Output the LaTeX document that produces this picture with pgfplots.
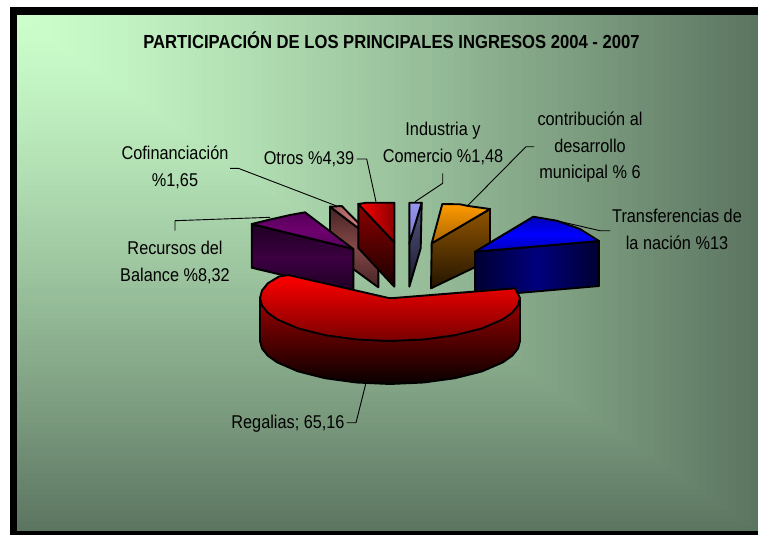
\documentclass[border=0pt]{standalone}
\usepackage{fontspec}
\setmainfont{Liberation Sans}
\newfontfamily\narrow[FakeStretch=0.88]{Liberation Sans}
\usepackage{pgfplots}
\pgfplotsset{compat=1.18}
\definecolor{bglight}{RGB}{204,255,204}
\definecolor{bgdark}{RGB}{92,117,97}
\definecolor{cofA}{RGB}{70,35,35}
\definecolor{cofB}{RGB}{132,72,72}
\definecolor{cofC}{RGB}{150,85,85}
\definecolor{cofD}{RGB}{255,150,150}
\definecolor{otA}{RGB}{140,0,0}
\definecolor{otB}{RGB}{25,0,0}
\definecolor{otC}{RGB}{255,0,0}
\definecolor{indA}{RGB}{85,85,130}
\definecolor{indB}{RGB}{25,25,45}
\definecolor{indC}{RGB}{150,150,240}
\definecolor{indD}{RGB}{120,120,200}
\definecolor{conA}{RGB}{145,85,0}
\definecolor{conB}{RGB}{35,20,0}
\definecolor{conC}{RGB}{255,155,0}
\definecolor{conD}{RGB}{170,100,0}
\definecolor{recA}{RGB}{30,0,35}
\definecolor{recB}{RGB}{60,0,65}
\definecolor{recC}{RGB}{85,0,90}
\definecolor{recD}{RGB}{110,0,110}
\definecolor{traA}{RGB}{0,0,50}
\definecolor{traB}{RGB}{0,0,125}
\definecolor{traC}{RGB}{0,0,180}
\definecolor{traD}{RGB}{0,0,255}
\definecolor{regA}{RGB}{155,0,0}
\definecolor{regB}{RGB}{8,0,0}
\definecolor{regC}{RGB}{255,0,0}
\definecolor{regD}{RGB}{120,0,0}
\newcommand{\lab}{\narrow\fontsize{18.5}{27}\selectfont}
\newcommand{\ttl}{\narrow\bfseries\fontsize{18.9}{22}\selectfont}
\begin{document}
\begin{tikzpicture}
% background: white page, black frame, gradient from the top left corner
\begin{scope}[x=1pt,y=-1pt]
\fill[white] (0,0) rectangle (758,535);
\fill[black] (10,7) rectangle (758,535);
\foreach \i in {100,99,...,1}{
  \pgfmathsetmacro\p{100*(\i/100)^1.25}
  \fill[bgdark!\p!bglight] (17,15) rectangle ++(\i*7.41,\i*5.16);
}
\end{scope}
\begin{axis}[
    at={(0pt,0pt)}, anchor=north west,
    width=758pt, height=535pt, scale only axis,
    xmin=0, xmax=758, ymin=0, ymax=535, y dir=reverse,
    hide axis, no markers,
    every axis plot/.append style={line width=1.9pt, draw=black, line join=round},
]
% Cofinanciacion
\addplot[top color=cofA, bottom color=cofA, middle color=cofB]
  coordinates {(330,206.7)(378.3,243.3)(378.3,287.3)(330,252)} --cycle;
\addplot[left color=cofC, right color=cofD]
  coordinates {(330,206.7)(341.7,206)(378.3,243.3)} --cycle;
% Otros
\addplot[shading angle=60, top color=otA, bottom color=otB]
  coordinates {(358.3,204)(394.3,242.3)(394.3,286.7)(358.3,248)} --cycle;
\addplot[left color=otC, right color=otA]
  coordinates {(358.3,204)(366.7,202.7)(394.3,202.7)(394.3,242.3)} --cycle;
% Industria y Comercio
\addplot[top color=indA, bottom color=indB]
  coordinates {(409.3,243.3)(421.7,202.7)(420.7,248.3)(409.3,286.7)} --cycle;
\addplot[top color=indC, bottom color=indD]
  coordinates {(409.3,202.7)(421.7,202.7)(409.3,243.3)} --cycle;
% contribucion
\addplot[shading angle=-45, top color=conA, bottom color=conB]
  coordinates {(431.7,243.3)(490,209)(490,260)(431,288.3)} --cycle;
\addplot[shading angle=-30, top color=conC, bottom color=conD]
  coordinates {(431.7,243.3)(442.3,204)(460,204.3)(468.3,206)(490,209)} --cycle;
% Recursos del Balance
\addplot[top color=recA, bottom color=recA, middle color=recB]
  coordinates {(251.7,224)(353.3,249)(353.3,292)(251.7,267.7)} --cycle;
\addplot[top color=recC, bottom color=recC, middle color=recD]
  coordinates {(251.7,224)(268,220)(290,215)(305,212.3)(353.3,249)} --cycle;
% Transferencias
\addplot[left color=traA, right color=traA, middle color=traB]
  coordinates {(475,251.7)(599,241)(599,286)(475,296.7)} --cycle;
\addplot[top color=traC, bottom color=traC, middle color=traD]
  coordinates {(475,251.7)(533.3,216.7)(556.7,220.7)(580,229)(599,241)} --cycle;
% Regalias
\addplot[shading angle=45, top color=regA, bottom color=regB]
  coordinates {(260,298)(260,341)(262,348.5)(267.8,355.7)(277.4,362.5)(298.1,371.4)(325,378.2)(356.4,382.5)
    (390,384)(423.6,382.5)(455,378.2)(481.9,371.4)(502.6,362.5)(512.2,355.7)(518,348.5)(520,341)(520,298)} --cycle;
\addplot[shading angle=45, top color=regC, bottom color=regD]
  coordinates {(288.3,275)(390,298.3)(515,288.3)(520,298)(518,305.5)(512.2,312.7)(502.6,319.5)(481.9,328.4)(455,335.2)
    (423.6,339.5)(390,341)(356.4,339.5)(325,335.2)(298.1,328.4)(277.4,319.5)(267.8,312.7)(262,305.5)(260,298)
    (262,290.5)(267.8,283.3)(279,276.5)} --cycle;
% leader lines
\addplot[black, line width=0.9pt] coordinates {(356.7,159)(366.7,159)(376,201.7)};
\addplot[black, line width=0.9pt] coordinates {(230,168.3)(238.3,168.3)(336.7,206)};
\addplot[black, line width=0.9pt] coordinates {(175,230.7)(175,220.7)(270,217.3)};
\addplot[black, line width=0.9pt] coordinates {(442.7,173.3)(442.7,183.3)(415,201.7)};
\addplot[black, line width=0.9pt] coordinates {(534,146.7)(526,146.7)(468.3,205)};
\addplot[black, line width=0.9pt] coordinates {(610,230.7)(600,230.7)(556.7,220.7)};
\addplot[black, line width=0.9pt] coordinates {(346.7,422.7)(356,422.7)(365.7,384)};
% texts
\node[anchor=base,font=\ttl] at (391.5,48) {PARTICIPACIÓN DE LOS PRINCIPALES INGRESOS 2004 - 2007};
\node[anchor=base,font=\lab] at (443,135) {Industria y};
\node[anchor=base,font=\lab] at (443,162) {Comercio \%1,48};
\node[anchor=base,font=\lab] at (590,125) {contribución al};
\node[anchor=base,font=\lab] at (590,152) {desarrollo};
\node[anchor=base,font=\lab] at (590,178) {municipal \% 6};
\node[anchor=base,font=\lab] at (677,222) {Transferencias de};
\node[anchor=base,font=\lab] at (677,249) {la nación \%13};
\node[anchor=base,font=\lab] at (175,159) {Cofinanciación};
\node[anchor=base,font=\lab] at (175,186) {\%1,65};
\node[anchor=base,font=\lab] at (309,164) {Otros \%4,39};
\node[anchor=base,font=\lab] at (175,254) {Recursos del};
\node[anchor=base,font=\lab] at (175,281) {Balance \%8,32};
\node[anchor=base,font=\lab] at (288,428) {Regalias; 65,16};
\end{axis}
\end{tikzpicture}
\end{document}
